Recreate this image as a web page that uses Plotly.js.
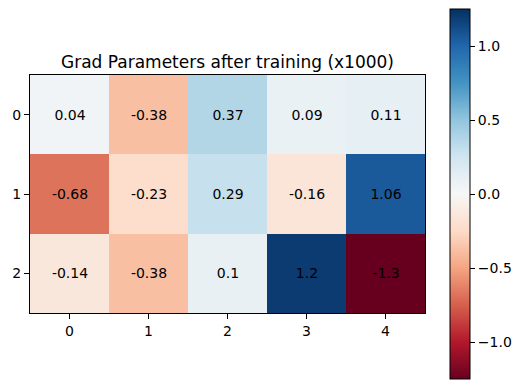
<!DOCTYPE html>
<html>
<head>
<meta charset="utf-8">
<script src="https://cdn.plot.ly/plotly-3.0.1.min.js"></script>
<style>html,body{margin:0;padding:0;background:#fff;}#chart{width:522px;height:389px;}</style>
</head>
<body>
<div id="chart"></div>
<script>
const cols = [0, 1, 2, 3, 4];
const rows = [0, 1, 2];
const row0 = [0.04, -0.38, 0.37, 0.09, 0.11];
const row1 = [-0.68, -0.23, 0.29, -0.16, 1.06];
const row2 = [-0.14, -0.38, 0.1, 1.2, -1.3];
const colorMin = -1.25;
const colorMax = 1.25;
const cbTickVals = [-1.0, -0.5, 0.0, 0.5, 1.0];
const cbTickText = ['\u22121.0', '\u22120.5', '0.0', '0.5', '1.0'];
const titleText = 'Grad Parameters after training (x1000)';

const zData = [row0, row1, row2];
const labels = zData.map(r => r.map(v => String(v)));

const rdbu = ['#67001f','#b2182b','#d6604d','#f4a582','#fddbc7','#f7f7f7','#d1e5f0','#92c5de','#4393c3','#2166ac','#053061'];
const colorscale = rdbu.map((c, i) => [i / (rdbu.length - 1), c]);

const font = 'DejaVu Sans, sans-serif';

const trace = {
  type: 'heatmap',
  x: cols,
  y: rows,
  z: zData,
  text: labels,
  texttemplate: '%{text}',
  textfont: {family: font, size: 14, color: '#000'},
  colorscale: colorscale,
  zmin: colorMin,
  zmax: colorMax,
  hoverinfo: 'none',
  colorbar: {
    x: 1.0633, xanchor: 'left', xpad: 0,
    y: 0.5, yanchor: 'middle', ypad: 0,
    thickness: 20, thicknessmode: 'pixels',
    len: 370, lenmode: 'pixels',
    outlinecolor: '#000', outlinewidth: 1,
    ticks: 'outside', ticklen: 5, tickcolor: '#000', tickwidth: 1,
    tickvals: cbTickVals, ticktext: cbTickText,
    tickfont: {family: font, size: 14, color: '#000'}
  }
};

const layout = {
  width: 522, height: 389,
  margin: {l: 30, r: 97, t: 75, b: 76, pad: 0, autoexpand: false},
  paper_bgcolor: '#fff', plot_bgcolor: '#fff',
  font: {family: font, size: 14, color: '#000'},
  title: {
    text: titleText,
    font: {family: font, size: 17, color: '#000'},
    xref: 'paper', x: 0.5, xanchor: 'center',
    yref: 'container', y: 1 - 62 / 389, yanchor: 'middle'
  },
  xaxis: {
    range: [-0.5, 4.5], tickvals: cols, ticktext: cols.map(String),
    ticks: 'outside', ticklen: 5, tickcolor: '#000', tickwidth: 1,
    showline: true, linecolor: '#000', linewidth: 1, mirror: true,
    showgrid: false, zeroline: false,
    tickfont: {family: font, size: 14, color: '#000'}
  },
  yaxis: {
    range: [2.5, -0.5], tickvals: rows, ticktext: rows.map(String),
    ticks: 'outside', ticklen: 5, tickcolor: '#000', tickwidth: 1,
    showline: true, linecolor: '#000', linewidth: 1, mirror: true,
    showgrid: false, zeroline: false,
    tickfont: {family: font, size: 14, color: '#000'}
  }
};

Plotly.newPlot('chart', [trace], layout, {displayModeBar: false, staticPlot: true});
</script>
</body>
</html>
